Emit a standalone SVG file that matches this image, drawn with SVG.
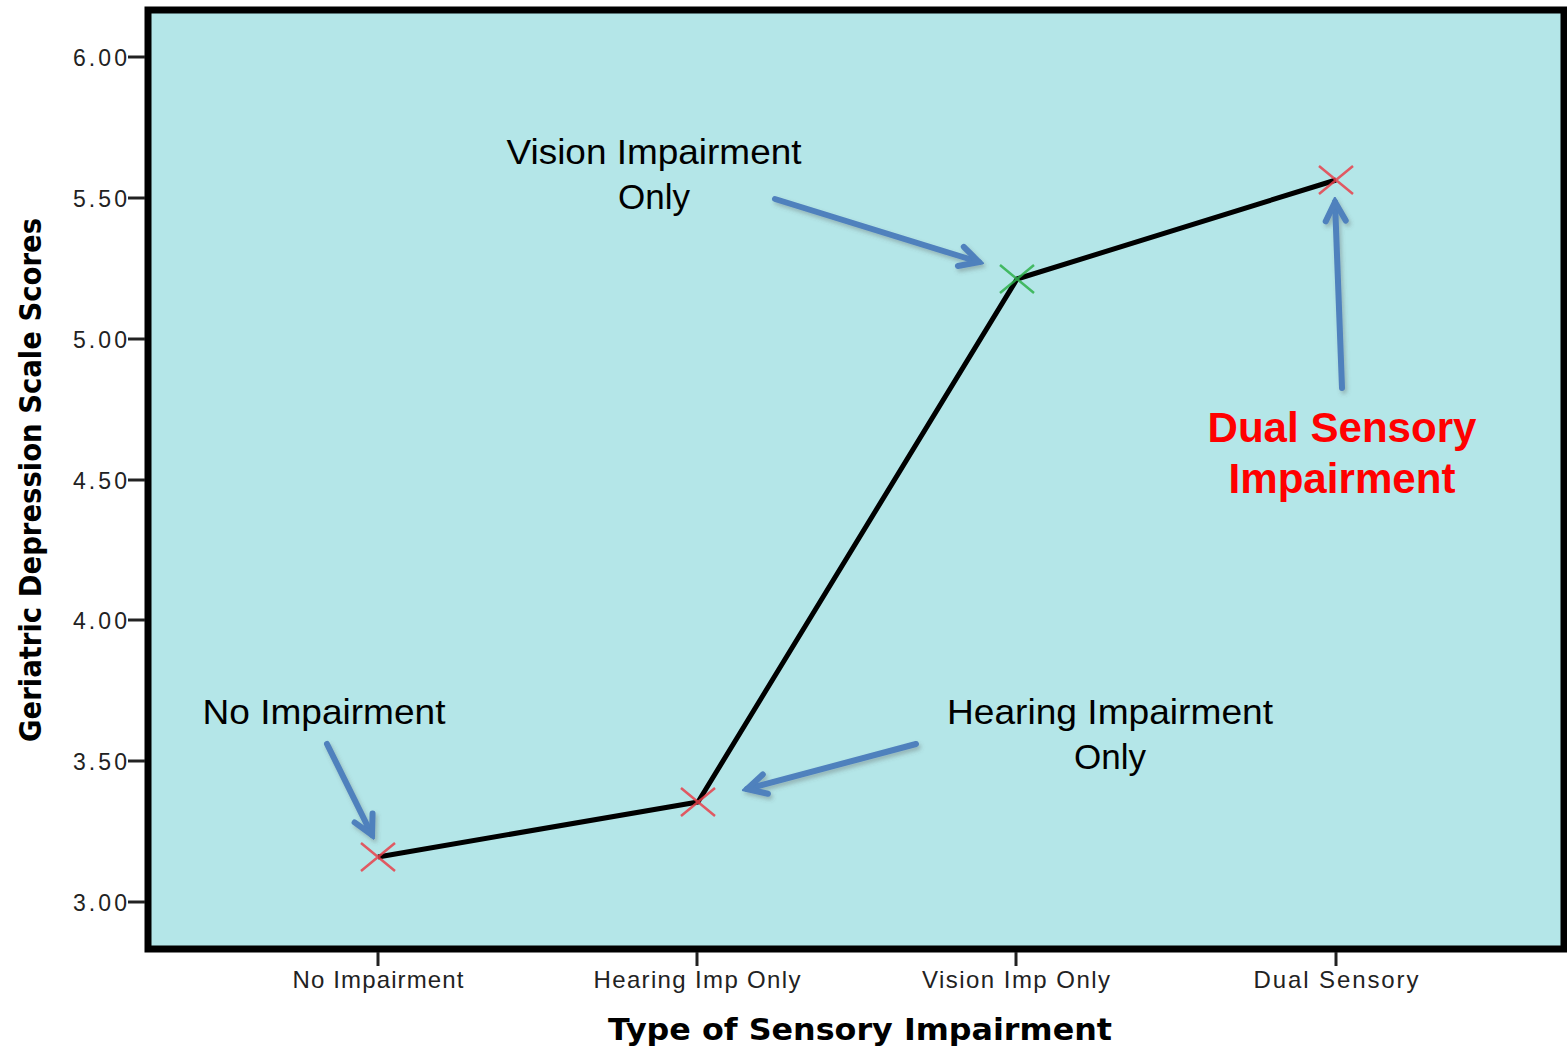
<svg xmlns="http://www.w3.org/2000/svg" width="1567" height="1048" viewBox="0 0 1567 1048">
<style>
.tick{stroke:#222;stroke-width:3}
.tl{font-family:"Liberation Sans",Arial,sans-serif;font-size:23px;fill:#222}
.xl{font-family:"Liberation Sans",Arial,sans-serif;font-size:24px;fill:#222;text-anchor:middle}
.ttl{font-family:"DejaVu Sans",Verdana,sans-serif;font-weight:bold;font-size:30px;fill:#000;text-anchor:middle}
.ann{font-family:"Liberation Sans",Arial,sans-serif;font-size:35px;fill:#000;text-anchor:middle}
.dual{font-family:"Liberation Sans",Arial,sans-serif;font-weight:bold;font-size:42px;fill:#ff0000;text-anchor:middle}
.arr{stroke:#4f81bd;stroke-width:6;fill:none;stroke-linecap:round;marker-end:url(#ah);filter:url(#sh)}
.xm{stroke-width:2.5;fill:none;opacity:0.85}
</style>
<defs>
<marker id="ah" markerUnits="userSpaceOnUse" markerWidth="30" markerHeight="30" viewBox="-25 -15 30 30" refX="0" refY="0" orient="auto">
<path d="M-19,-10 L0,0 L-19,10" fill="none" stroke="#4f81bd" stroke-width="6" stroke-linecap="round" stroke-linejoin="miter"/>
</marker>
<filter id="sh" filterUnits="userSpaceOnUse" x="0" y="0" width="1567" height="1048">
<feDropShadow dx="2" dy="3" stdDeviation="2" flood-color="#555" flood-opacity="0.35"/>
</filter>
</defs>
<rect width="1567" height="1048" fill="#ffffff"/>
<g id="plot-frame">
<rect x="148" y="10" width="1416" height="939" fill="#b4e6e8" stroke="#000" stroke-width="7"/>
</g>
<g id="y-axis">
<line class="tick" x1="128" y1="57" x2="145" y2="57"/>
<line class="tick" x1="128" y1="198" x2="145" y2="198"/>
<line class="tick" x1="128" y1="339" x2="145" y2="339"/>
<line class="tick" x1="128" y1="480" x2="145" y2="480"/>
<line class="tick" x1="128" y1="620" x2="145" y2="620"/>
<line class="tick" x1="128" y1="761" x2="145" y2="761"/>
<line class="tick" x1="128" y1="902" x2="145" y2="902"/>
<text class="tl" x="73" y="66" textLength="54" lengthAdjust="spacing">6.00</text>
<text class="tl" x="73" y="207" textLength="54" lengthAdjust="spacing">5.50</text>
<text class="tl" x="73" y="348" textLength="54" lengthAdjust="spacing">5.00</text>
<text class="tl" x="73" y="489" textLength="54" lengthAdjust="spacing">4.50</text>
<text class="tl" x="73" y="629" textLength="54" lengthAdjust="spacing">4.00</text>
<text class="tl" x="73" y="770" textLength="54" lengthAdjust="spacing">3.50</text>
<text class="tl" x="73" y="911" textLength="54" lengthAdjust="spacing">3.00</text>
<text class="ttl" transform="translate(41,480) rotate(-90)" textLength="524" lengthAdjust="spacingAndGlyphs">Geriatric Depression Scale Scores</text>
</g>
<g id="x-axis">
<line class="tick" x1="378" y1="952" x2="378" y2="966"/>
<line class="tick" x1="697" y1="952" x2="697" y2="966"/>
<line class="tick" x1="1016" y1="952" x2="1016" y2="966"/>
<line class="tick" x1="1336" y1="952" x2="1336" y2="966"/>
<text class="xl" x="378" y="988" textLength="171" lengthAdjust="spacing">No Impairment</text>
<text class="xl" x="697" y="988" textLength="207" lengthAdjust="spacing">Hearing Imp Only</text>
<text class="xl" x="1016" y="988" textLength="188" lengthAdjust="spacing">Vision Imp Only</text>
<text class="xl" x="1336" y="988" textLength="165" lengthAdjust="spacing">Dual Sensory</text>
<text class="ttl" x="860" y="1040" textLength="504" lengthAdjust="spacingAndGlyphs">Type of Sensory Impairment</text>
</g>
<g id="data-line">
<polyline points="378,857 698,802 1017,279 1336,180" fill="none" stroke="#000" stroke-width="5" stroke-linejoin="round"/>
</g>
<g id="point-no-impairment">
<path class="xm" stroke="#e8404a" d="M361,843 L395,871 M361,871 L395,843"/>
</g>
<g id="point-hearing">
<path class="xm" stroke="#e8404a" d="M681,788 L715,816 M681,816 L715,788"/>
</g>
<g id="point-vision">
<path class="xm" stroke="#2eb04a" d="M1000,265 L1034,293 M1000,293 L1034,265"/>
</g>
<g id="point-dual">
<path class="xm" stroke="#e8404a" d="M1319,166 L1353,194 M1319,194 L1353,166"/>
</g>
<g id="label-vision">
<text class="ann" x="654" y="164" textLength="295" lengthAdjust="spacingAndGlyphs">Vision Impairment</text>
<text class="ann" x="654" y="209">Only</text>
</g>
<g id="label-no-impairment">
<text class="ann" x="324" y="724" textLength="243" lengthAdjust="spacingAndGlyphs">No Impairment</text>
</g>
<g id="label-hearing">
<text class="ann" x="1110" y="724" textLength="326" lengthAdjust="spacingAndGlyphs">Hearing Impairment</text>
<text class="ann" x="1110" y="769">Only</text>
</g>
<g id="label-dual">
<text class="dual" x="1342" y="442" textLength="269" lengthAdjust="spacingAndGlyphs">Dual Sensory</text>
<text class="dual" x="1342" y="493" textLength="227" lengthAdjust="spacingAndGlyphs">Impairment</text>
</g>
<g id="connectors">
<line class="arr" x1="775" y1="199" x2="979" y2="262"/>
<line class="arr" x1="1342" y1="388" x2="1335" y2="202"/>
<line class="arr" x1="327" y1="744" x2="372" y2="835"/>
<line class="arr" x1="916" y1="744" x2="747" y2="789"/>
</g>
</svg>
